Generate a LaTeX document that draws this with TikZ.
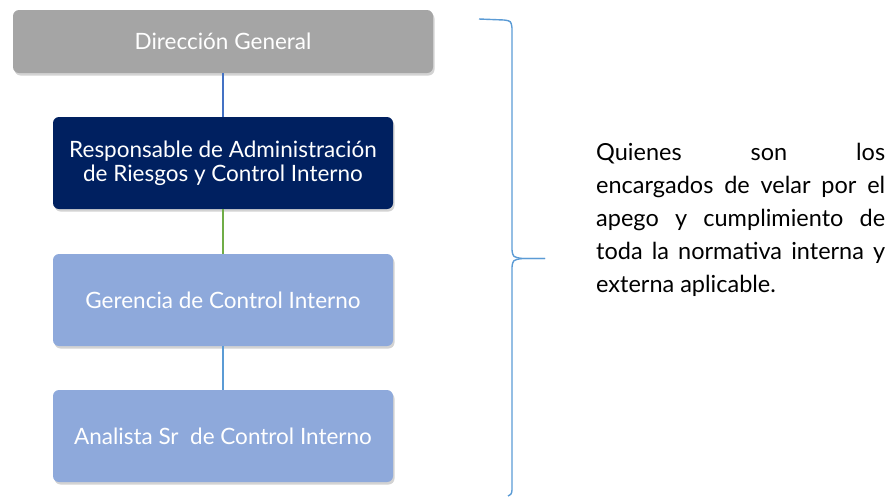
\documentclass[tikz,border=0pt]{standalone}
\usepackage{fontspec}
\setmainfont{Lato}
\usetikzlibrary{shadows}

\definecolor{gris}{HTML}{A5A5A5}
\definecolor{marino}{HTML}{002060}
\definecolor{celeste}{HTML}{8EA9DB}
\definecolor{azul}{HTML}{4472C4}
\definecolor{verde}{HTML}{70AD47}
\definecolor{azulclaro}{HTML}{5B9BD5}

\tikzset{
  caja/.style={shape=rectangle, rounded corners=6pt, text=white, align=center,
    minimum width=340pt, minimum height=92pt, inner sep=0pt,
    font=\fontsize{22.5}{24}\selectfont,
    drop shadow={opacity=0.35, shadow xshift=1.5pt, shadow yshift=-2.5pt}},
  enlace/.style={line width=1.5pt}
}

\begin{document}
\begin{tikzpicture}[x=1pt, y=-1pt]
    \useasboundingbox (0, 0) rectangle (890, 496);

    \pgfmathsetmacro{\xc}{223};

    \node [caja, fill=gris, minimum width=420pt, minimum height=63pt] (dir) at (\xc, 41.5) {Dirección General};
    \node [caja, fill=marino] (resp) at (\xc, 163) {Responsable de Administración\\de Riesgos y Control Interno};
    \node [caja, fill=celeste] (ger) at (\xc, 300) {Gerencia de Control Interno};
    \node [caja, fill=celeste] (ana) at (\xc, 436) {Analista Sr\ \ de Control Interno};

    \draw [enlace, azul] (dir) -- (resp);
    \draw [enlace, verde] (resp) -- (ger);
    \draw [enlace, azulclaro] (ger) -- (ana);

%    la llave
    \coordinate (punta) at (545, 258.5);
    \draw [azulclaro, line width=1.4pt] (479, 19) -- (504, 20) .. controls (511, 21) .. (512, 28)
      -- (512, 250) .. controls (513, 257) .. (522, 258.5) -- (punta);
    \draw [azulclaro, line width=1.4pt] (punta) -- (522, 258.5) .. controls (513, 260) .. (512, 267)
      -- (512, 490) .. controls (511.5, 494) .. (508, 496);

    \node [anchor=west, inner sep=0pt, text width=289pt, align=justify,
      font=\fontsize{23.5}{33}\selectfont] (texto) at (596, 220)
      {Quienes son los\linebreak encargados de velar por el\linebreak apego y cumplimiento de\linebreak toda la normativa interna y\linebreak externa aplicable.};
\end{tikzpicture}
\end{document}
